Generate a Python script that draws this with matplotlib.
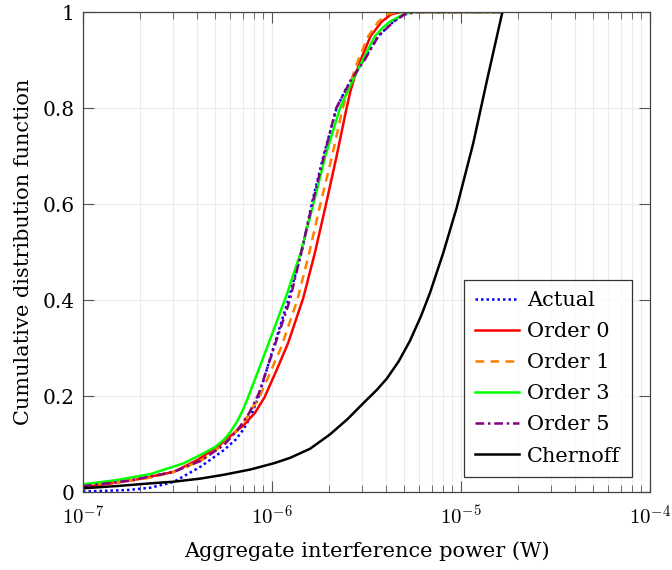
import numpy as np
import matplotlib
matplotlib.use("Agg")
import matplotlib.pyplot as plt
from matplotlib.ticker import LogLocator, NullFormatter

# ---- data; x given as log10 of power (W), y = CDF ----
actual_logx = [-7.0, -6.85, -6.766, -6.642, -6.52, -6.377, -6.254, -6.19, -6.152, -6.113, -6.07, -5.993,
               -5.914, -5.843, -5.79, -5.728, -5.658, -5.615, -5.579, -5.515, -5.437, -5.358, -5.30, -5.24, -4.78]
actual_F    = [0.001, 0.003, 0.004, 0.009, 0.021, 0.053, 0.0875, 0.11, 0.13, 0.157, 0.20, 0.30,
               0.40, 0.50, 0.60, 0.70, 0.80, 0.835, 0.86, 0.90, 0.95, 0.98, 0.995, 1.0, 1.0]

order0_logx = [-7.0, -6.87, -6.73, -6.519, -6.395, -6.289, -6.148, -6.09, -6.04, -5.98, -5.915, -5.834,
               -5.772, -5.714, -5.658, -5.608, -5.585, -5.565, -5.531, -5.478, -5.419, -5.37, -5.32, -4.78]
order0_F    = [0.0098, 0.017, 0.025, 0.042, 0.0667, 0.094, 0.14, 0.165, 0.197, 0.25, 0.31, 0.405,
               0.50, 0.60, 0.70, 0.795, 0.835, 0.862, 0.90, 0.95, 0.98, 0.995, 1.0, 1.0]

order1_logx = [-7.0, -6.82, -6.642, -6.52, -6.377, -6.254, -6.15, -6.064, -6.008, -5.953, -5.866, -5.802,
               -5.744, -5.682, -5.626, -5.579, -5.544, -5.49, -5.437, -5.39, -5.34, -4.78]
order1_F    = [0.013, 0.02, 0.03, 0.042, 0.065, 0.10, 0.145, 0.20, 0.25, 0.30, 0.40, 0.50,
               0.60, 0.70, 0.80, 0.86, 0.90, 0.95, 0.98, 0.995, 1.0, 1.0]

order3_logx = [-7.0, -6.818, -6.642, -6.466, -6.36, -6.30, -6.254, -6.22, -6.184, -6.155, -6.13, -6.08,
               -6.03, -5.923, -5.847, -5.781, -5.718, -5.64, -5.60, -5.57, -5.52, -5.455, -5.415,
               -5.376, -5.30, -5.25, -4.78]
order3_F    = [0.016, 0.025, 0.0375, 0.060, 0.081, 0.094, 0.109, 0.125, 0.147, 0.170, 0.194, 0.245,
               0.297, 0.41, 0.50, 0.60, 0.70, 0.80, 0.835, 0.86, 0.90, 0.95, 0.967,
               0.98, 0.996, 1.0, 1.0]

order5_logx = [-7.0, -6.75, -6.52, -6.377, -6.254, -6.18, -6.12, -6.07, -5.99, -5.905, -5.845, -5.787,
               -5.725, -5.66, -5.58, -5.51, -5.437, -5.355, -5.30, -5.24, -4.78]
order5_F    = [0.012, 0.024, 0.042, 0.065, 0.098, 0.13, 0.165, 0.205, 0.30, 0.40, 0.50, 0.60,
               0.70, 0.80, 0.86, 0.90, 0.95, 0.98, 0.995, 1.0, 1.0]

chernoff_logx = [-7.0, -6.818, -6.642, -6.519, -6.377, -6.254, -6.113, -5.989, -5.905, -5.799, -5.693,
                 -5.60, -5.517, -5.446, -5.393, -5.33, -5.27, -5.21, -5.164, -5.094, -5.023,
                 -4.935, -4.864, -4.781]
chernoff_F    = [0.0077, 0.0125, 0.018, 0.0215, 0.028, 0.036, 0.047, 0.060, 0.071, 0.090, 0.120,
                 0.152, 0.185, 0.2125, 0.236, 0.272, 0.315, 0.368, 0.415, 0.498, 0.592,
                 0.727, 0.855, 1.0]

series = [
    ("Actual",   actual_logx,   actual_F,   dict(color=(0, 0, 1), linestyle=(0, (1, 1.2)))),
    ("Order 0",  order0_logx,   order0_F,   dict(color=(1, 0, 0), linestyle="-")),
    ("Order 1",  order1_logx,   order1_F,   dict(color=(1, 0.5, 0), linestyle=(0, (3.5, 2.5)))),
    ("Order 3",  order3_logx,   order3_F,   dict(color=(0, 1, 0), linestyle="-")),
    ("Order 5",  order5_logx,   order5_F,   dict(color=(0.5, 0, 0.5), linestyle=(0, (3.5, 1.5, 1, 1.5)))),
    ("Chernoff", chernoff_logx, chernoff_F, dict(color="black", linestyle="-")),
]

ytick_vals = [0, 0.2, 0.4, 0.6, 0.8, 1.0]
ytick_labels = ["0", "0.2", "0.4", "0.6", "0.8", "1"]
xtick_vals = [1e-7, 1e-6, 1e-5, 1e-4]
xtick_labels = [r"$10^{-7}$", r"$10^{-6}$", r"$10^{-5}$", r"$10^{-4}$"]

plt.rcParams["font.family"] = ["DejaVu Serif"]
plt.rcParams["mathtext.fontset"] = "cm"

fig = plt.figure(figsize=(6.72, 5.70), dpi=100)
ax = fig.add_axes([83/672, 1 - 492/570, (650-83)/672, (492-12)/570])

for name, lx, F, st in series:
    ax.plot(10.0 ** np.array(lx), F, label=name, linewidth=1.8,
            solid_joinstyle="round", dash_joinstyle="round", **st)

ax.set_xscale("log")
ax.set_xlim(1e-7, 1e-4)
ax.set_ylim(0, 1)

ax.set_xticks(xtick_vals)
ax.set_xticklabels(xtick_labels)
ax.xaxis.set_minor_locator(LogLocator(base=10, subs=np.arange(2, 10)))
ax.xaxis.set_minor_formatter(NullFormatter())
ax.set_yticks(ytick_vals)
ax.set_yticklabels(ytick_labels)

ax.tick_params(which="both", direction="in", top=True, right=True, colors="#555555",
               labelcolor="black")
ax.tick_params(axis="x", labelsize=15, pad=9)
ax.tick_params(axis="y", labelsize=14.5, pad=6)
ax.tick_params(which="major", length=8, width=0.8)
ax.tick_params(which="minor", length=5, width=0.6)

ax.grid(True, which="major", color="#ebebeb", linewidth=0.8)
ax.grid(True, which="minor", axis="x", color="#ebebeb", linewidth=0.8)
ax.set_axisbelow(True)
for s in ax.spines.values():
    s.set_color("#444444")
    s.set_linewidth(0.9)

ax.set_xlabel("Aggregate interference power (W)", fontsize=15, labelpad=9)
ax.set_ylabel("Cumulative distribution function", fontsize=15, labelpad=7)

leg = ax.legend(loc="lower right", bbox_to_anchor=((632-83)/(650-83), (492-477)/480),
                bbox_transform=ax.transAxes,
                fontsize=15, frameon=True, fancybox=False, edgecolor="black",
                handlelength=2.1, handletextpad=0.4, labelspacing=0.58, borderpad=0.55,
                borderaxespad=0.0)
leg.get_frame().set_linewidth(0.9)

fig.savefig("out.png", dpi=100)
